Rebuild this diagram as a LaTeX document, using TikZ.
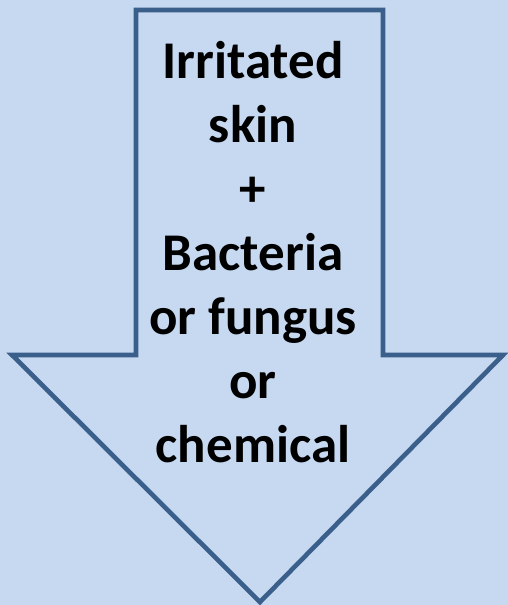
\documentclass[tikz,border=0pt]{standalone}
\usepackage{fontspec}
\setmainfont{Carlito}
\definecolor{bg}{HTML}{C6D9F1}
\definecolor{edge}{HTML}{3A5F8B}
\begin{document}
\begin{tikzpicture}[x=1pt,y=-1pt,
  txt/.style={anchor=base,inner sep=0pt,font=\fontsize{53}{64}\selectfont\bfseries,text=black}]
\fill[bg] (0,0) rectangle (508,605);
\useasboundingbox (0,0) rectangle (508,605);
\draw[edge,line width=4.6,line join=miter,fill=bg]
  (136,10) -- (383,10) -- (383,355) -- (503,355) -- (260,602) -- (12,355) -- (136,355) -- cycle;
\node[txt] (l1) at (253,78) {Irritated};
\node[txt] (l2) at (253,142) {skin};
\node[txt] (l3) at (253,206) {+};
\node[txt] (l4) at (253,270) {Bacteria};
\node[txt] (l5) at (253,334) {or fungus};
\node[txt] (l6) at (253,398) {or};
\node[txt] (l7) at (253,462) {chemical};
\end{tikzpicture}
\end{document}
